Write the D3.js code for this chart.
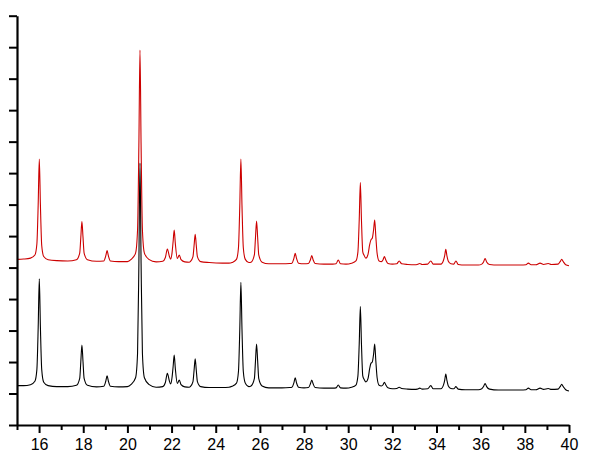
<!DOCTYPE html>
<html>
<head>
<meta charset="utf-8">
<script src="https://cdn.jsdelivr.net/npm/d3@7"></script>
<style>
  html, body { margin: 0; padding: 0; background: #fff; }
  svg { display: block; }
  .tick text { font-family: "Liberation Sans", Arial, sans-serif; }
</style>
</head>
<body>
<svg id="chart" width="598" height="459"></svg>
<script>
// 2-theta sample positions (degrees), shared by both patterns
const twoTheta = [
  15.00, 15.30, 15.61, 15.81, 15.90, 15.96, 16.01, 16.06, 16.12, 16.21, 16.41,
  16.80, 17.30, 17.69, 17.84, 17.89, 17.94, 17.99, 18.04, 18.19,
  18.60, 18.93, 19.02, 19.08, 19.14, 19.23, 19.60, 20.00,
  20.17, 20.37, 20.46, 20.52, 20.57, 20.62, 20.68, 20.77, 20.97,
  21.30, 21.60, 21.72, 21.81, 21.90, 21.96, 22.02, 22.07, 22.12, 22.17, 22.26, 22.35, 22.43, 22.60,
  22.80, 22.85, 22.97, 23.02, 23.07, 23.12, 23.17, 23.32,
  23.70, 24.30, 24.60, 24.74, 24.94, 25.03, 25.09, 25.14, 25.19, 25.25, 25.34, 25.50,
  25.60, 25.75, 25.80, 25.85, 25.90, 25.95, 26.10,
  26.40, 27.00, 27.35, 27.45, 27.54, 27.60, 27.66, 27.75,
  28.00, 28.20, 28.29, 28.35, 28.41, 28.50,
  28.90, 29.30, 29.45, 29.55, 29.65, 29.90,
  30.15, 30.35, 30.44, 30.50, 30.55, 30.60, 30.66, 30.72, 30.80,
  30.90, 30.97, 31.03, 31.09, 31.15, 31.20, 31.25, 31.31, 31.40,
  31.50, 31.58, 31.64, 31.70, 31.80,
  32.00, 32.20, 32.31, 32.42, 32.70, 33.00, 33.13, 33.24, 33.35,
  33.60, 33.74, 33.85, 34.20, 34.32, 34.37, 34.42, 34.47, 34.53, 34.65,
  34.78, 34.88, 34.98, 35.30, 35.90, 36.05, 36.13, 36.20, 36.27, 36.40,
  36.80, 37.30, 37.80, 38.05, 38.16, 38.28, 38.50, 38.69, 38.85, 39.06, 39.20,
  39.50, 39.60, 39.67, 39.74, 39.85, 40.00
];

// lower pattern (black)
const patternBlack = [
  125, 125, 128, 139, 176, 311, 464, 311, 176, 136, 125,
  122, 122, 126, 148, 201, 254, 201, 148, 126,
  121, 123, 139, 156, 139, 123, 121, 122,
  129, 150, 228, 513, 832, 513, 228, 150, 129,
  120, 122, 135, 164, 140, 130, 150, 185, 222, 180, 132, 143, 128, 121,
  120, 122, 138, 174, 210, 174, 138, 122,
  119, 119, 120, 123, 133, 170, 303, 453, 303, 170, 133, 122,
  124, 147, 202, 257, 202, 147, 124,
  118, 118, 119, 120, 134, 150, 134, 120,
  118, 119, 131, 143, 131, 119,
  117, 117, 118, 127, 118, 117,
  120, 127, 156, 259, 376, 259, 156, 145, 137,
  148, 178, 196, 200, 225, 257, 205, 150, 126,
  124, 128, 136, 128, 118,
  115, 116, 120, 116, 114, 113, 114, 117, 114,
  115, 125, 115, 115, 128, 142, 162, 142, 125, 116,
  115, 122, 114, 112, 112, 115, 122, 132, 122, 114,
  111, 111, 111, 112, 117, 112, 112, 117, 113, 116, 113,
  114, 122, 129, 122, 112, 108
];

// upper pattern (red)
const patternRed = [
  526, 527, 530, 540, 575, 702, 845, 700, 570, 535, 525,
  522, 521, 525, 546, 596, 646, 596, 546, 525,
  520, 521, 537, 554, 537, 521, 519, 519,
  526, 546, 620, 889, 1191, 889, 620, 546, 526,
  518, 520, 532, 559, 536, 527, 546, 582, 619, 577, 529, 540, 525, 518,
  517, 519, 535, 570, 606, 570, 535, 519,
  516, 514, 514, 516, 526, 563, 696, 845, 696, 563, 526, 516,
  517, 540, 594, 648, 594, 540, 517,
  512, 512, 513, 514, 529, 545, 529, 514,
  512, 513, 525, 538, 525, 513,
  511, 511, 512, 524, 512, 511,
  514, 521, 550, 653, 770, 653, 550, 539, 530,
  543, 572, 588, 593, 620, 651, 600, 545, 521,
  519, 525, 535, 525, 513,
  511, 512, 521, 512, 510, 509, 510, 513, 510,
  511, 521, 511, 511, 524, 538, 558, 538, 521, 512,
  511, 521, 510, 508, 508, 511, 518, 529, 518, 510,
  508, 508, 508, 509, 514, 509, 509, 514, 510, 513, 510,
  511, 519, 526, 519, 509, 506
];

const xMajorTicks = [16, 18, 20, 22, 24, 26, 28, 30, 32, 34, 36, 38, 40];
const xMinorTicks = [15, 17, 19, 21, 23, 25, 27, 29, 31, 33, 35, 37, 39];
const yTicks = [0, 100, 200, 300, 400, 500, 600, 700, 800, 900, 1000, 1100, 1200, 1300];

const svg = d3.select("#chart");
const x = d3.scaleLinear().domain([15, 40]).range([17, 569]);
const y = d3.scaleLinear().domain([0, 1300]).range([425, 15.7]);

const line = (vals) => d3.line()
  .x((d, i) => x(twoTheta[i]))
  .y(d => y(d))
  .curve(d3.curveMonotoneX)(vals);

svg.append("path")
  .attr("d", line(patternRed))
  .attr("fill", "none")
  .attr("stroke", "#cc0000")
  .attr("stroke-width", 1.1);

svg.append("path")
  .attr("d", line(patternBlack))
  .attr("fill", "none")
  .attr("stroke", "#000")
  .attr("stroke-width", 1.1);

// x axis: minor ticks
const gMinor = svg.append("g")
  .attr("transform", "translate(0,425)")
  .call(d3.axisBottom(x).tickValues(xMinorTicks).tickSize(5).tickSizeOuter(0).tickFormat(""));
gMinor.select(".domain").remove();
gMinor.selectAll(".tick line").attr("stroke", "#000").attr("stroke-width", 2);

// x axis: major ticks + labels
const gX = svg.append("g")
  .attr("transform", "translate(0,425)")
  .call(d3.axisBottom(x).tickValues(xMajorTicks).tickSize(8).tickSizeOuter(0).tickPadding(6).tickFormat(d3.format("d")));
gX.select(".domain").attr("stroke", "#000").attr("stroke-width", 2.2);
gX.selectAll(".tick line").attr("stroke", "#000").attr("stroke-width", 2);
gX.selectAll(".tick text")
  .attr("fill", "#000")
  .style("font-size", "16px");

// y axis (ticks only, no labels)
const gY = svg.append("g")
  .attr("transform", "translate(17,0)")
  .call(d3.axisLeft(y).tickValues(yTicks).tickSize(8).tickSizeOuter(0).tickFormat(""));
gY.select(".domain").attr("stroke", "#000").attr("stroke-width", 2.2);
gY.selectAll(".tick line").attr("stroke", "#000").attr("stroke-width", 2);
</script>
</body>
</html>
